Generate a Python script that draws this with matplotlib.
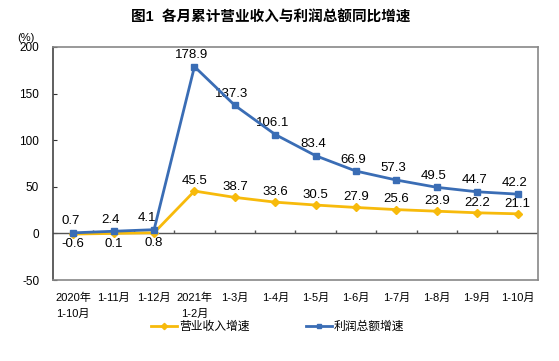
import matplotlib
matplotlib.use('Agg')
import matplotlib.pyplot as plt
import numpy as np

plt.rcParams['font.family'] = ['Liberation Sans', 'Noto Sans CJK SC']

# data
months = ['2020年\n1-10月', '1-11月', '1-12月', '2021年\n1-2月', '1-3月', '1-4月',
          '1-5月', '1-6月', '1-7月', '1-8月', '1-9月', '1-10月']
revenue = [-0.6, 0.1, 0.8, 45.5, 38.7, 33.6, 30.5, 27.9, 25.6, 23.9, 22.2, 21.1]
profit = [0.7, 2.4, 4.1, 178.9, 137.3, 106.1, 83.4, 66.9, 57.3, 49.5, 44.7, 42.2]
yticks = [-50, 0, 50, 100, 150, 200]

blue = '#3A6DB5'
gold = '#F7BA0B'

fig = plt.figure(figsize=(5.59, 3.61), dpi=100)
ax = fig.add_axes([0.095, 0.224, 0.867, 0.646])

x = np.arange(len(months))
ax.plot(x, revenue, color=gold, lw=2, marker='D', ms=4, label='营业收入增速', zorder=3)
ax.plot(x, profit, color=blue, lw=2, marker='s', ms=4, label='利润总额增速', zorder=4)

for i, v in enumerate(profit):
    dx = -5 if i == 2 else -2
    ax.annotate(f'{v}', (i, v), xytext=(dx, 4), textcoords='offset points',
                ha='center', va='bottom', fontsize=9.5)
for i, v in enumerate(revenue):
    if i < 3:
        ax.annotate(f'{v}', (i, v), xytext=(0, -3), textcoords='offset points',
                    ha='center', va='top', fontsize=9.5)
    else:
        ax.annotate(f'{v}', (i, v), xytext=(0, 3), textcoords='offset points',
                    ha='center', va='bottom', fontsize=9.5)

ax.set_xlim(-0.5, len(months) - 0.5)
ax.set_ylim(-50, 200)

# zero line with category ticks
ax.axhline(0, color='#555555', lw=1, zorder=2)
ax.vlines(np.arange(len(months)) + 0.5, 0, 3.5, color='#555555', lw=1, zorder=2)

ax.set_yticks(yticks)
ax.set_yticklabels([str(t) for t in yticks], fontsize=8.5)
ax.tick_params(axis='y', direction='in', length=3, pad=10, color='#333333')
ax.set_xticks(x)
ax.set_xticklabels(months, fontsize=8, linespacing=1.75)
ax.tick_params(axis='x', length=0, pad=9)
for lab in ax.get_xticklabels():
    lab.set_va('top')

for s in ax.spines.values():
    s.set_color('#888888')
    s.set_linewidth(1.2)
ax.spines['left'].set_color('#444444')

fig.text(0.047, 0.895, '(%)', fontsize=8, ha='center', va='center')
fig.text(0.485, 0.95, '图1  各月累计营业收入与利润总额同比增速', fontsize=10.5,
         fontweight='bold', ha='center', va='center')

fig.legend(loc='center', bbox_to_anchor=(0.497, 0.094), ncol=2, frameon=False,
           fontsize=8.5, handlelength=2.2, handletextpad=0.15, columnspacing=4.8,
           markerscale=0.8)

fig.savefig('out.png', dpi=100)
